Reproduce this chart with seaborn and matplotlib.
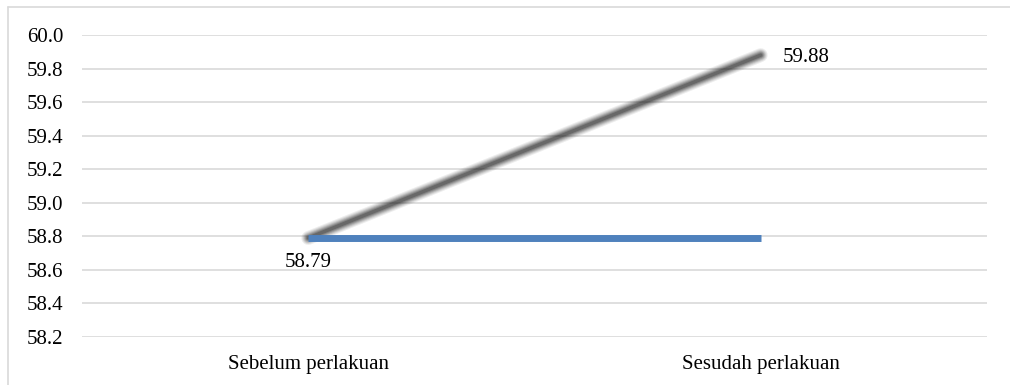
import matplotlib
matplotlib.use("Agg")
import matplotlib.pyplot as plt
import seaborn as sns
import pandas as pd
from matplotlib.lines import Line2D

categories = ["Sebelum perlakuan", "Sesudah perlakuan"]
series_gray = [58.79, 59.88]
series_blue = [58.79, 58.79]
y_ticks = [58.2, 58.4, 58.6, 58.8, 59.0, 59.2, 59.4, 59.6, 59.8, 60.0]

sns.set_theme(style="white")
plt.rcParams["font.family"] = ["Liberation Serif", "DejaVu Serif"]

df_gray = pd.DataFrame({"cat": categories, "val": series_gray})
df_blue = pd.DataFrame({"cat": categories, "val": series_blue})

fig = plt.figure(figsize=(10.1, 3.85), dpi=100)
ax = fig.add_axes([82 / 1010, 1 - 337 / 385, (987 - 82) / 1010, (337 - 35) / 385])

# blurred gray line (soft shadow look)
for lw, a in [(10, 0.08), (8.5, 0.10), (7, 0.14), (5.5, 0.18), (4, 0.22), (2.5, 0.28)]:
    sns.lineplot(data=df_gray, x="cat", y="val", ax=ax, color="#202020",
                 linewidth=lw, alpha=a, sort=False, solid_capstyle="round", zorder=3)

sns.lineplot(data=df_blue, x="cat", y="val", ax=ax, color="#4F81BD",
             linewidth=5, sort=False, solid_capstyle="butt", zorder=4)

ax.set_xlim(-0.5, 1.5)
ax.set_ylim(58.2, 60.0)
ax.set_yticks(y_ticks)
ax.set_yticklabels([f"{v:.1f}" for v in y_ticks])
ax.set_xlabel("")
ax.set_ylabel("")
ax.grid(axis="y", color="#D9D9D9", linewidth=1.2)
ax.grid(axis="x", visible=False)
ax.set_axisbelow(True)
for s in ax.spines.values():
    s.set_visible(False)
ax.tick_params(axis="y", length=0, pad=13.5, labelsize=15, labelcolor="#000000")
ax.tick_params(axis="x", length=0, pad=13, labelsize=15, labelcolor="#000000")

ax.annotate(f"{series_gray[0]:.2f}", xy=(0, series_gray[0]), xytext=(0, -17.5),
            textcoords="offset points", ha="center", va="center", fontsize=15, color="#000000")
ax.annotate(f"{series_gray[1]:.2f}", xy=(1, series_gray[1]), xytext=(15.8, -1.4),
            textcoords="offset points", ha="left", va="center", fontsize=15, color="#000000")

fig.add_artist(Line2D([8 / 1010, 8 / 1010], [0, 1 - 7 / 385], transform=fig.transFigure,
                      color="#D9D9D9", linewidth=1.2))
fig.add_artist(Line2D([8 / 1010, 1], [1 - 7 / 385, 1 - 7 / 385], transform=fig.transFigure,
                      color="#D9D9D9", linewidth=1.2))

fig.savefig("out.png", dpi=100, facecolor="white")
